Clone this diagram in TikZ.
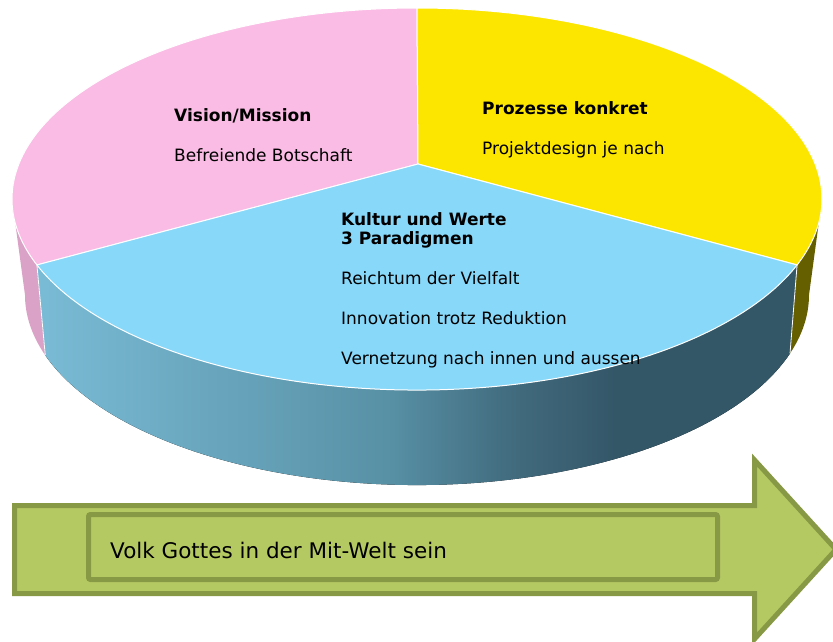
\documentclass[tikz,border=0pt]{standalone}
\usepackage{fontspec}
\setmainfont{DejaVu Sans}
\definecolor{pinktop}{RGB}{250,187,228}
\definecolor{yellowtop}{RGB}{252,230,0}
\definecolor{bluetop}{RGB}{135,216,249}
\definecolor{pinkside}{RGB}{218,162,198}
\definecolor{yellowside}{RGB}{102,95,0}
\definecolor{bsA}{RGB}{122,187,213}
\definecolor{bsB}{RGB}{88,145,166}
\definecolor{bsM}{RGB}{66,108,127}
\definecolor{bsC}{RGB}{52,87,104}
\definecolor{arrowfill}{RGB}{181,201,99}
\definecolor{arrowline}{RGB}{136,153,69}
\pgfdeclarehorizontalshading{bluesideshade}{100bp}{color(0bp)=(bsA); color(25bp)=(bsA); color(48bp)=(bsB); color(56bp)=(bsM); color(63bp)=(bsC); color(100bp)=(bsC)}
\begin{document}
\begin{tikzpicture}[x=1pt,y=1pt,
  slice/.style={draw=white, line width=1pt},
  arrowstyle/.style={draw=arrowline, fill=arrowfill, line width=5pt},
  lbl/.style={anchor=base west, inner sep=0pt, font=\fontsize{17}{20}\selectfont},
  blbl/.style={lbl, font=\fontsize{17}{20}\selectfont\bfseries}]
\useasboundingbox (0,0) rectangle (833,-641);
\coordinate (C1) at (417,-199);
\coordinate (C2) at (417,-295);
\coordinate (ctr) at (418,-164);
\path (C1) ++(200.2:405 and 191) coordinate (tL);
\path (C1) ++(339.8:405 and 191) coordinate (tR);
\path (C1) ++(90:405 and 191) coordinate (tT);
\path (C1) ++(180:405 and 191) coordinate (tW);
\path (C1) ++(0:405 and 191) coordinate (tE);
\path (C2) ++(198.5:392 and 190) coordinate (bL);
\path (C2) ++(-17.9:392 and 190) coordinate (bR);
\path (C2) ++(180:392 and 190) coordinate (bW);
\path (C2) ++(0:392 and 190) coordinate (bE);
% sides
\fill[pinkside] (tL) arc[start angle=200.2, end angle=180, x radius=405, y radius=191]
  -- (bW) arc[start angle=180, end angle=198.5, x radius=392, y radius=190] -- cycle;
\fill[yellowside] (tR) arc[start angle=-20.2, end angle=0, x radius=405, y radius=191]
  -- (bE) arc[start angle=0, end angle=-17.9, x radius=392, y radius=190] -- cycle;
\fill[shading=bluesideshade] (tL) arc[start angle=200.2, end angle=339.8, x radius=405, y radius=191]
  -- (bR) arc[start angle=-17.9, end angle=-161.5, x radius=392, y radius=190] -- cycle;
\draw[white, line width=0.8pt] (tL) -- (bL) (tR) -- (bR);
% top slices
\draw[slice, fill=pinktop] (ctr) -- (tL) arc[start angle=200.2, end angle=90, x radius=405, y radius=191] -- cycle;
\draw[slice, fill=yellowtop] (ctr) -- (tT) arc[start angle=90, end angle=-20.2, x radius=405, y radius=191] -- cycle;
\draw[slice, fill=bluetop] (ctr) -- (tL) arc[start angle=200.2, end angle=339.8, x radius=405, y radius=191] -- cycle;
% labels
\node[blbl] (vm) at (174,-121) {Vision/Mission};
\node[lbl] (bb) at (174,-161) {Befreiende Botschaft};
\node[blbl] (pk) at (482,-114) {Prozesse konkret};
\node[lbl] (pd) at (482,-154) {Projektdesign je nach};
\node[blbl] (kw) at (341,-225) {Kultur und Werte};
\node[blbl] (pa) at (341,-244) {3 Paradigmen};
\node[lbl] (rv) at (341,-284) {Reichtum der Vielfalt};
\node[lbl] (ir) at (341,-324) {Innovation trotz Reduktion};
\node[lbl] (vn) at (341,-364) {Vernetzung nach innen und aussen};
% arrow
\draw[arrowstyle] (14.5,-505.5) -- (754.5,-505.5) -- (754.5,-460) -- (836,-549.5)
  -- (754.5,-639) -- (754.5,-593.5) -- (14.5,-593.5) -- cycle;
\draw[arrowstyle, rounded corners=2pt] (88.5,-514.5) rectangle (717.5,-579.5);
\node[anchor=base west, inner sep=0pt, font=\fontsize{21.5}{26}\selectfont] (vg) at (110,-558) {Volk Gottes in der Mit-Welt sein};
\end{tikzpicture}
\end{document}
